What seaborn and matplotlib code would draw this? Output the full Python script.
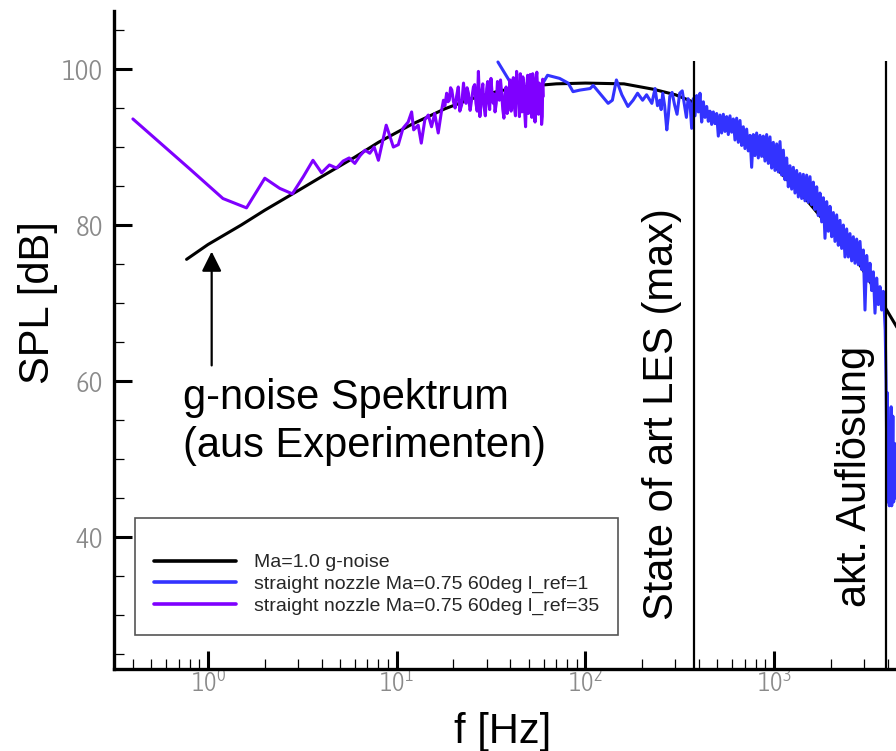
import matplotlib
matplotlib.use("Agg")
import matplotlib.pyplot as plt
import seaborn as sns
import pandas as pd
from matplotlib import font_manager as fm
from matplotlib.ticker import LogLocator, MultipleLocator, NullFormatter
from matplotlib.lines import Line2D

# ---------------- data ----------------
black_f = [0.77, 1.0, 1.5, 2.0, 3.0, 4.0, 6.0, 8.0, 12.0, 18.0, 25.0, 35.0, 50.0, 70.0,
           100.0, 160.0, 230.0, 300.0, 370.0, 500.0, 700.0, 1000.0, 1500.0, 2000.0,
           2750.0, 3400.0, 3950.0, 4500.0]
black_v = [75.6, 77.5, 80.0, 81.9, 84.4, 86.2, 88.7, 90.6, 92.9, 94.9, 96.2, 97.2, 97.8, 98.1,
           98.2, 98.1, 97.4, 96.7, 95.8, 93.7, 91.2, 87.6, 83.1, 79.5,
           75.5, 71.8, 69.1, 66.8]

blue_f = [34.4, 41.4, 44.0, 47.0, 50.0, 53.0, 56.0, 59.6, 63.0, 68.0, 73.0, 81.0, 86.0, 93.5,
          100.0, 106.0, 110.0, 119.0, 132.0, 139.0, 146.0, 156.0, 168.0, 179.0, 189.0, 201.0,
          211.0, 225.0, 234.0, 241.0, 248.0, 252.0, 257.0, 263.0, 270.0, 275.0, 280.0, 288.0,
          297.0, 306.0, 316.0, 326.0, 337.0, 343.0, 350.0,
          358.4, 365.8, 373.3, 381.0, 388.8, 396.8, 404.9, 413.2, 421.7, 430.4,
          439.2, 448.2, 457.4, 466.8, 476.4, 486.2, 496.1, 506.3, 516.7, 527.3,
          538.2, 549.3, 560.5, 572.0, 583.8, 595.8, 608.0, 620.5, 633.3, 646.3,
          659.6, 673.1, 686.9, 701.0, 715.4, 730.1, 745.1, 760.4, 776.0, 791.9,
          808.2, 824.8, 841.8, 859.1, 876.7, 894.7, 913.1, 931.9, 951.1, 970.6,
          990.6, 1010.9, 1031.8, 1053.0, 1074.6, 1096.7, 1119.2, 1142.2, 1165.7, 1189.6,
          1214.1, 1239.0, 1264.5, 1290.5, 1317.0, 1344.1, 1371.7, 1399.9, 1428.6, 1457.9,
          1487.9, 1518.5, 1549.7, 1581.5, 1614.0, 1647.2, 1681.0, 1715.5, 1750.8, 1786.8,
          1823.5, 1861.0, 1899.2, 1938.2, 1977.9, 2018.5, 2060.1, 2102.4, 2145.6, 2189.7,
          2234.6, 2280.5, 2327.4, 2375.2, 2424.1, 2473.9, 2524.7, 2576.6, 2629.5, 2683.5,
          2738.7, 2795.0, 2852.4, 2911.0, 2970.8, 3031.8, 3094.1, 3157.7, 3222.5, 3288.7,
          3356.3, 3425.3, 3495.7, 3567.5, 3640.8, 3715.6, 3791.9,
          3830, 3880, 3920, 3950, 3980, 4010, 4040, 4080, 4120, 4170, 4200, 4260, 4300,
          4350, 4400, 4450]
blue_v = [100.9, 97.7, 96.5, 97.8, 96.0, 97.5, 96.8, 98.2, 99.2, 99.0, 98.8, 98.2, 97.1, 97.3,
          97.4, 97.5, 97.9, 96.9, 95.6, 96.0, 98.6, 96.7, 95.2, 96.0, 96.9, 96.0,
          96.7, 95.6, 97.5, 95.3, 96.0, 94.8, 96.9, 95.3, 92.2, 94.0, 96.5, 97.0,
          95.4, 94.2, 96.9, 97.2, 95.0, 93.8, 96.2,
          95.6, 92.4, 96.2, 94.0, 96.6, 94.5, 96.9, 93.2, 95.8, 93.8,
          95.2, 93.3, 94.6, 92.9, 94.5, 93.0, 94.3, 91.4, 94.1, 91.8,
          94.2, 92.0, 93.9, 91.6, 94.0, 91.9, 93.6, 90.9, 93.7, 90.6,
          93.4, 90.2, 92.6, 89.8, 92.3, 89.5, 91.5, 87.4, 91.6, 88.9,
          91.8, 88.6, 91.5, 88.8, 91.4, 88.2, 91.6, 87.9, 91.3, 87.3,
          90.6, 87.0, 90.4, 86.8, 90.7, 86.4, 89.6, 85.8, 88.6, 84.9,
          87.6, 84.6, 87.4, 84.1, 87.0, 83.6, 86.6, 83.4, 86.5, 83.1,
          86.4, 82.9, 86.2, 82.6, 85.5, 82.0, 84.9, 81.2, 84.1, 80.4,
          83.5, 78.3, 83.0, 79.2, 82.4, 78.5, 81.6, 77.9, 81.3, 77.4,
          80.6, 77.0, 80.0, 75.9, 79.5, 75.9, 78.9, 75.4, 78.5, 75.1,
          78.2, 74.9, 77.9, 74.3, 76.8, 69.1, 76.1, 72.8, 75.1, 71.6,
          74.0, 68.7, 73.2, 69.8, 72.1, 69.1, 71.5,
          69.5, 66.5, 60.0, 52.0, 58.5, 44.5, 47.0, 44.0, 50.0, 56.7, 44.0, 55.5, 44.5,
          52.0, 45.0, 48.0]

purple_f = [0.4, 0.8, 1.2, 1.6, 2.0, 2.4, 2.8, 3.2, 3.6, 4.0, 4.4, 4.8, 5.2, 5.6, 6.0, 6.4,
            6.8, 7.2, 7.6, 8.0, 8.4, 8.8, 9.2, 9.6, 10.2, 10.8, 11.5, 12.0, 12.3, 13.0, 13.5,
            14.1, 14.7, 15.3, 15.9, 16.6,
            17.3, 17.7, 18.0, 18.4, 18.7, 19.0, 19.3, 19.6, 20.0, 20.4, 20.8, 21.2, 21.6, 22.1,
            22.35, 22.6, 22.9, 23.3, 23.6, 24.0, 24.2, 24.5, 25.0, 25.5, 25.9, 26.3, 26.7, 27.1,
            27.35, 27.6, 27.9, 28.2, 28.6, 29.0, 29.5, 30.0, 30.35, 30.7, 31.1, 31.6, 32.0, 32.5,
            32.8, 33.2, 33.7, 34.2, 34.6, 35.0, 35.5,
            36.0, 36.5, 37.0, 37.5, 38.0, 38.5, 39.1, 39.5, 39.9, 40.4, 41.0, 41.5, 42.0, 42.6,
            43.2, 43.7, 44.3, 44.7, 45.2, 45.6, 46.1, 46.6, 47.1, 47.6, 48.2, 48.8, 49.4, 49.9,
            50.5, 51.0, 51.5, 52.0, 52.6, 53.1, 53.6, 54.1, 54.7, 55.3, 55.9, 56.4, 57.0, 57.6,
            58.2, 58.6, 59.1, 59.4, 59.8]
purple_v = [93.6, 87.2, 83.4, 82.2, 86.0, 84.7, 84.0, 86.2, 88.3, 86.7, 87.7, 87.3, 88.2, 88.6,
            87.9, 88.9, 89.6, 89.2, 90.0, 88.3, 90.6, 92.8, 91.4, 90.0, 90.3, 92.4, 93.2, 94.5,
            92.2, 92.8, 90.5, 93.5, 94.1, 92.6, 94.3, 91.8,
            94.7, 96.0, 95.3, 96.9, 95.8, 96.0, 97.6, 97.3, 95.8, 95.0, 96.6, 97.7, 94.6, 95.4,
            96.8, 98.2, 96.5, 95.6, 97.6, 96.9, 95.7, 94.7, 96.2, 97.7, 98.0, 95.6, 94.6, 99.7,
            97.0, 93.9, 95.4, 96.9, 98.1, 95.2, 94.0, 97.5, 98.4, 96.0, 94.8, 98.8, 97.0, 95.6,
            96.8, 94.5, 95.6, 98.4, 97.0, 96.0, 98.6,
            96.9, 94.8, 93.7, 96.8, 97.7, 94.3, 95.6, 97.5, 98.6, 94.6, 96.5, 98.9, 95.2, 94.0,
            99.7, 97.4, 96.0, 93.9, 99.4, 97.0, 94.5, 99.0, 98.2, 94.8, 92.6, 97.4, 99.2, 94.3,
            96.0, 99.3, 97.7, 93.8, 99.4, 97.2, 95.4, 93.2, 98.6, 99.6, 96.9, 94.2, 98.2, 97.4,
            96.0, 92.9, 93.9, 98.7, 96.5]

series_labels = ["Ma=1.0 g-noise",
                 "straight nozzle Ma=0.75 60deg l_ref=1",
                 "straight nozzle Ma=0.75 60deg l_ref=35"]
series_colors = ["#000000", "#3333ff", "#7f00ff"]

marker_freqs = [376.0, 3918.0]          # vertical reference lines [Hz]
marker_texts = ["State of art LES (max)", "akt. Auflösung"]

# ---------------- style ----------------
sns.set_theme(style="white")
BIG = "Liberation Sans"
plt.rcParams["font.family"] = [BIG, "DejaVu Sans"]


def pick_narrow():
    best = None
    best_score = -1
    for f in fm.fontManager.ttflist:
        if f.style != "normal":
            continue
        nm = f.name
        if "Mono" in nm or "Serif" in nm or "CJK" in nm:
            continue
        narrowish = ("Narrow" in nm or "Condensed" in nm or
                     str(f.stretch) in ("condensed", "semi-condensed"))
        if not narrowish:
            continue
        try:
            w = int(f.weight)
        except (TypeError, ValueError):
            w = {"normal": 400, "regular": 400, "light": 300}.get(str(f.weight), 700)
        if w < 300 or w > 400:
            continue
        score = 1
        if "Liberation" in nm:
            score += 3
        if "Condensed" in nm or "Narrow" in nm:
            score += 1
        if w == 300:
            score += 1
        if score > best_score:
            best, best_score = f, score
    return best


nf = pick_narrow()
if nf is not None:
    tick_fp_y = fm.FontProperties(fname=nf.fname, size=21)
    tick_fp_x = fm.FontProperties(fname=nf.fname, size=19)
else:
    tick_fp_y = fm.FontProperties(family=BIG, size=20)
    tick_fp_x = fm.FontProperties(family=BIG, size=18)

W, H = 896, 751
fig = plt.figure(figsize=(W / 100, H / 100), dpi=100)
ax_l, ax_b, ax_t = 113.5, 669.0, 11.0
ax = fig.add_axes([ax_l / W, 1 - ax_b / H, 1 - ax_l / W, (ax_b - ax_t) / H])

ax.set_xscale("log")
dfs = [pd.DataFrame({"f": black_f, "SPL": black_v}),
       pd.DataFrame({"f": blue_f, "SPL": blue_v}),
       pd.DataFrame({"f": purple_f, "SPL": purple_v})]
for i, (d, c) in enumerate(zip(dfs, series_colors)):
    sns.lineplot(data=d, x="f", y="SPL", ax=ax, color=c, lw=2.2, sort=False,
                 estimator=None, legend=False, zorder=2 + i)

ax.set_xlim(0.3157, 4426)
ax.set_ylim(23.08, 107.44)

for xf in marker_freqs:
    ax.vlines(xf, 23.08, 101.0, color="black", lw=1.6, zorder=6)

# axes styling
for s in ["top", "right"]:
    ax.spines[s].set_visible(False)
for s in ["left", "bottom"]:
    ax.spines[s].set_color("black")
    ax.spines[s].set_linewidth(2.4)
    ax.spines[s].set_zorder(7)

ax.yaxis.set_major_locator(MultipleLocator(20))
ax.yaxis.set_minor_locator(MultipleLocator(5))
ax.xaxis.set_major_locator(LogLocator(base=10))
ax.xaxis.set_minor_locator(LogLocator(base=10, subs=[2, 3, 4, 5, 6, 7, 8, 9]))
ax.xaxis.set_minor_formatter(NullFormatter())
ax.tick_params(which="major", direction="in", length=13, width=2.2, color="black",
               labelcolor="#8a8a8a", left=True, bottom=True)
ax.tick_params(which="minor", direction="in", length=7.5, width=0.9, color="black",
               left=True, bottom=True)
ax.tick_params(axis="y", which="major", pad=7.5)
ax.tick_params(axis="x", which="major", pad=1)
for lbl in ax.get_yticklabels():
    lbl.set_fontproperties(tick_fp_y)
for lbl in ax.get_xticklabels():
    lbl.set_fontproperties(tick_fp_x)

ax.set_ylabel("SPL [dB]", fontsize=30, family=BIG, color="black")
ax.yaxis.set_label_coords((38 - ax_l) / (W - ax_l), (ax_b - 303) / (ax_b - ax_t))
ax.yaxis.label.set_va("center")
ax.set_xlabel("f [Hz]", fontsize=30, family=BIG, color="black")
ax.xaxis.set_label_coords((503 - ax_l) / (W - ax_l), (ax_b - 732) / (ax_b - ax_t))
ax.xaxis.label.set_va("center")

# vertical annotations
ax.text(255, 29.4, marker_texts[0], rotation=90, ha="center", va="bottom",
        fontsize=30, family=BIG, color="black")
ax.text(2684, 31.0, marker_texts[1], rotation=90, ha="center", va="bottom",
        fontsize=30, family=BIG, color="black")

# arrow + note
ax.annotate("", xy=(1.046, 76.6), xytext=(1.046, 62.0),
            arrowprops=dict(arrowstyle="-|>,head_length=0.6,head_width=0.3",
                            mutation_scale=20, lw=1.6, color="black",
                            shrinkA=0, shrinkB=0), zorder=8)
ax.text(0.737, 56.4, "g-noise Spektrum", ha="left", va="baseline",
        fontsize=30, family=BIG, color="black")
ax.text(0.737, 50.3, "(aus Experimenten)", ha="left", va="baseline",
        fontsize=30, family=BIG, color="black")

# legend
handles = [Line2D([], [], color=c, lw=2.6) for c in series_colors]
leg = ax.legend(handles, series_labels, loc="upper left",
                bbox_to_anchor=(135 / W, 1 - 518 / H), bbox_transform=fig.transFigure,
                borderaxespad=0, frameon=True, fancybox=False, shadow=False,
                edgecolor="#555555", facecolor="white", framealpha=1,
                prop={"family": BIG, "size": 14}, handlelength=4.2, handletextpad=0.9,
                labelspacing=0.22, borderpad=1.0, title=" ", title_fontsize=9)
leg.get_frame().set_linewidth(1.2)
leg.set_zorder(10)

fig.savefig("out.png", dpi=100)
